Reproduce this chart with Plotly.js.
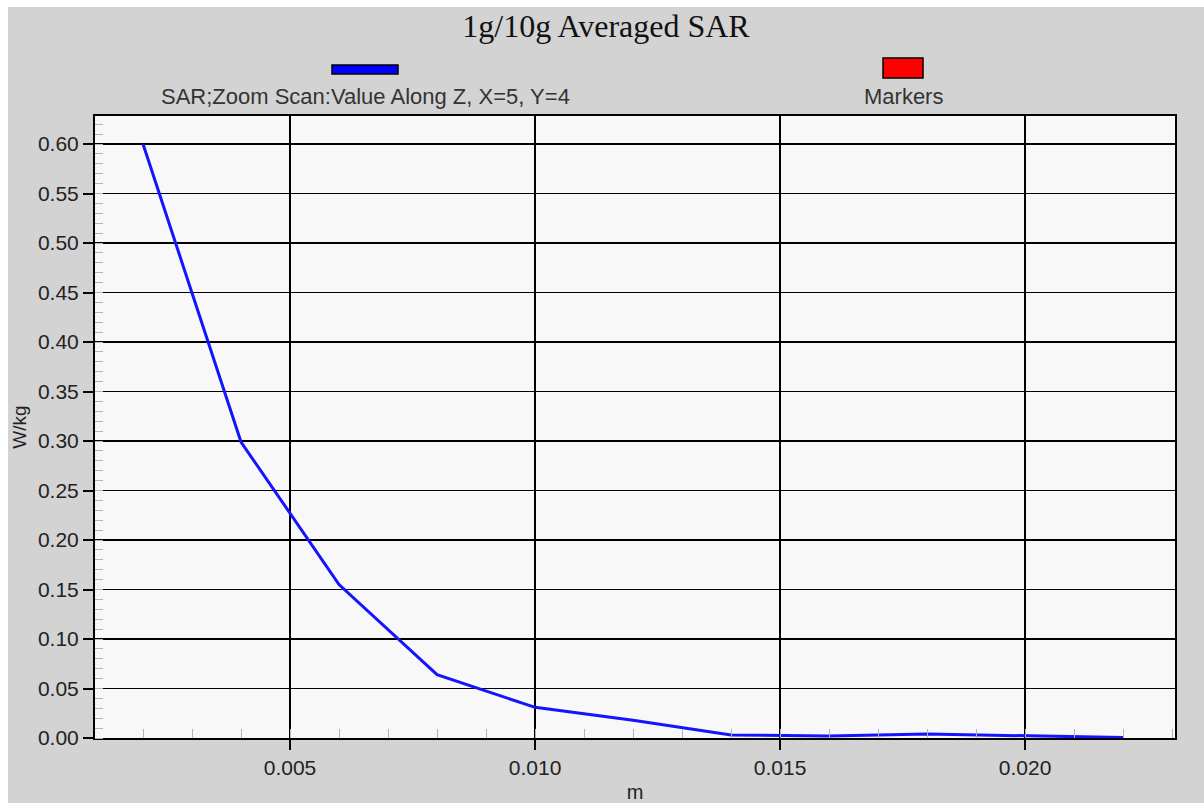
<!DOCTYPE html>
<html>
<head>
<meta charset="utf-8">
<script src="https://cdn.plot.ly/plotly-3.0.1.min.js"></script>
<style>
  html, body { margin: 0; padding: 0; background: #ffffff; }
  #wrap { position: absolute; left: 8px; top: 7px; width: 1196px; height: 796px; }
  #chart { width: 1196px; height: 796px; }
</style>
</head>
<body>
<div id="wrap"><div id="chart"></div></div>
<script>
// ---- data ----
const depth_m = [0.002, 0.004, 0.006, 0.008, 0.010, 0.012, 0.014, 0.016, 0.018, 0.020, 0.022];
const sar_wkg = [0.600, 0.299, 0.155, 0.064, 0.031, 0.018, 0.003, 0.002, 0.004, 0.002, 0.0005];
const seriesName = "SAR;Zoom Scan:Value Along Z, X=5, Y=4";
const markersName = "Markers";
const xTickVals = [0.005, 0.010, 0.015, 0.020];
const xTickText = ["0.005", "0.010", "0.015", "0.020"];
const yTickVals = [0.00, 0.05, 0.10, 0.15, 0.20, 0.25, 0.30, 0.35, 0.40, 0.45, 0.50, 0.55, 0.60];
const yTickText = ["0.00", "0.05", "0.10", "0.15", "0.20", "0.25", "0.30", "0.35", "0.40", "0.45", "0.50", "0.55", "0.60"];

// ---- layout helpers (page pixels -> paper coords) ----
const PL = 95, PR = 1175, PT = 116, PB = 738;
const px = v => (v - PL) / (PR - PL);
const py = v => (PB - v) / (PB - PT);

const traces = [
  { x: depth_m, y: sar_wkg, type: "scatter", mode: "lines", name: seriesName,
    line: { color: "#1414ff", width: 3 }, showlegend: false },
  { x: [], y: [], type: "scatter", mode: "markers", name: markersName,
    marker: { color: "#ff0000" }, showlegend: false }
];

const SANS = "Liberation Sans, Arial, sans-serif";
const tickFont = { family: SANS, size: 21, color: "#222" };

const layout = {
  width: 1196, height: 796,
  paper_bgcolor: "#d3d3d3",
  plot_bgcolor: "#f8f8f8",
  margin: { l: PL - 8, r: 1204 - PR, t: PT - 7, b: 803 - PB },
  showlegend: false,
  title: { text: "1g/10g Averaged SAR", x: 0.5, xanchor: "center", y: 1 - 19 / 796, yanchor: "middle",
           font: { family: "Liberation Serif, Times New Roman, serif", size: 32, color: "#111" } },
  xaxis: {
    range: [0.00102, 0.02306],
    tickmode: "array", tickvals: xTickVals, ticktext: xTickText,
    ticks: "outside", ticklen: 10, tickwidth: 2, tickcolor: "#000",
    showgrid: true, gridcolor: "#000", gridwidth: 1.5,
    showline: true, linecolor: "#000", linewidth: 2, mirror: true,
    zeroline: false,
    tickfont: tickFont,
    minor: { dtick: 0.001, tick0: 0, ticks: "inside", ticklen: 9, tickwidth: 1, tickcolor: "#b5b5b5", showgrid: false },
    title: { text: "m", font: { family: SANS, size: 20, color: "#222" }, standoff: 8 }
  },
  yaxis: {
    range: [0, 0.6283],
    tickmode: "array", tickvals: yTickVals, ticktext: yTickText,
    ticks: "outside", ticklen: 10, tickwidth: 2, tickcolor: "#000",
    showgrid: true, gridcolor: "#000", gridwidth: 1.5,
    showline: true, linecolor: "#000", linewidth: 2, mirror: true,
    zeroline: false,
    tickfont: tickFont,
    minor: { dtick: 0.01, tick0: 0, ticks: "inside", ticklen: 8, tickwidth: 1, tickcolor: "#b5b5b5", showgrid: false },
    title: { text: "W/kg", font: { family: SANS, size: 19, color: "#222" }, standoff: 6 }
  },
  shapes: [
    { type: "rect", xref: "paper", yref: "paper", x0: px(332), x1: px(398), y0: py(74), y1: py(65),
      fillcolor: "#0000ff", line: { color: "#000", width: 1.5 } },
    { type: "rect", xref: "paper", yref: "paper", x0: px(883), x1: px(923), y0: py(78), y1: py(58),
      fillcolor: "#ff0000", line: { color: "#000", width: 1.5 } }
  ],
  annotations: [
    { xref: "paper", yref: "paper", x: px(365), y: py(97), text: seriesName, showarrow: false,
      xanchor: "center", yanchor: "middle", font: { family: SANS, size: 22, color: "#333" } },
    { xref: "paper", yref: "paper", x: px(903), y: py(97), text: markersName, showarrow: false,
      xanchor: "center", yanchor: "middle", font: { family: SANS, size: 22, color: "#333" } }
  ]
};

Plotly.newPlot("chart", traces, layout, { displayModeBar: false, staticPlot: true });
</script>
</body>
</html>
